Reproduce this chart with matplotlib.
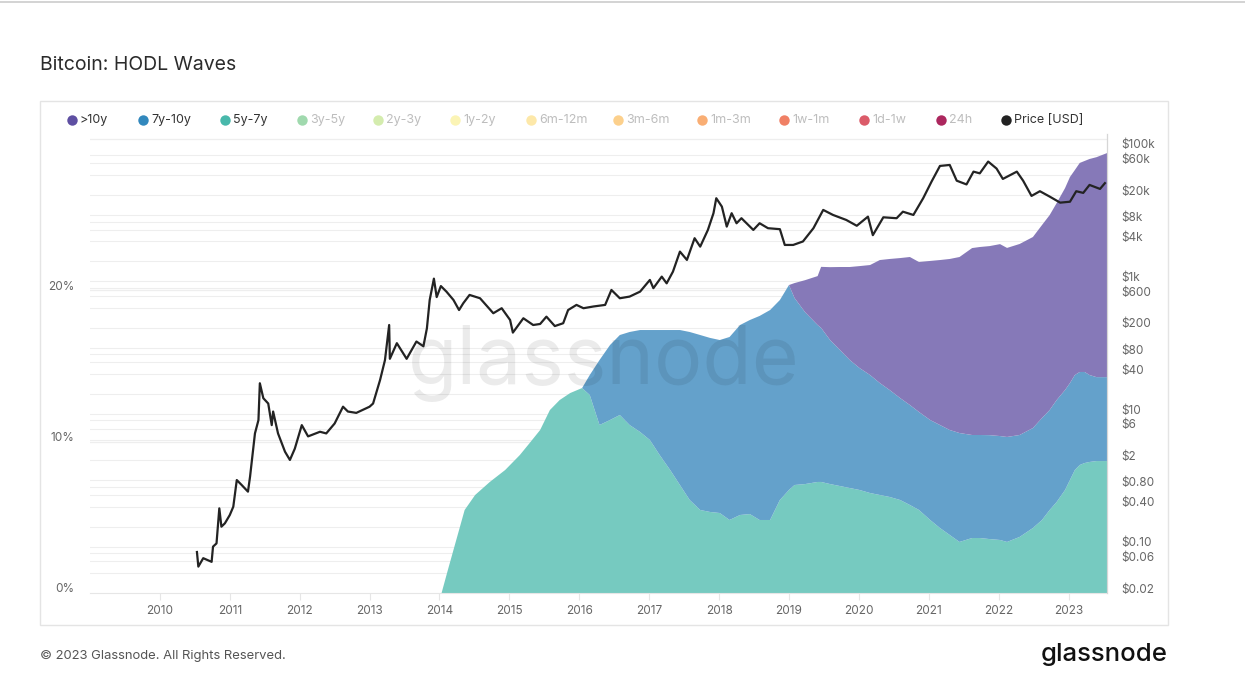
import matplotlib.pyplot as plt
import matplotlib.transforms as mtransforms
from matplotlib.lines import Line2D
from matplotlib.patches import Rectangle

plt.rcParams['font.family'] = ['Inter', 'DejaVu Sans']

# HODL wave bands (% of supply)
wave_years = [2014.03, 2014.12, 2014.22, 2014.36, 2014.51, 2014.72, 2014.94, 2015.15, 2015.29, 2015.44,
              2015.58, 2015.72, 2015.87, 2016.04, 2016.15, 2016.29, 2016.44, 2016.58, 2016.72, 2016.87,
              2017.01, 2017.15, 2017.30, 2017.44, 2017.58, 2017.73, 2017.87, 2018.01, 2018.15, 2018.30,
              2018.44, 2018.58, 2018.73, 2018.87, 2019.00, 2019.08, 2019.23, 2019.41, 2019.46, 2019.59,
              2019.73, 2019.87, 2020.01, 2020.16, 2020.30, 2020.44, 2020.59, 2020.73, 2020.86, 2021.02,
              2021.16, 2021.30, 2021.44, 2021.62, 2021.73, 2021.87, 2022.02, 2022.12, 2022.30, 2022.49,
              2022.62, 2022.73, 2022.83, 2022.95, 2023.02, 2023.09, 2023.16, 2023.23, 2023.30, 2023.40,
              2023.55]
supply_5y_7y = [0.00, 1.52, 3.17, 5.48, 6.47, 7.33, 8.12, 9.11, 9.90, 10.76,
                12.08, 12.74, 13.20, 13.53, 13.07, 11.09, 11.42, 11.75, 11.09, 10.63,
                10.10, 9.11, 8.12, 7.13, 6.14, 5.48, 5.35, 5.28, 4.82, 5.15,
                5.21, 4.82, 4.82, 6.14, 6.80, 7.13, 7.19, 7.33, 7.33, 7.19,
                7.06, 6.93, 6.80, 6.60, 6.47, 6.34, 6.14, 5.81, 5.48, 4.82,
                4.29, 3.83, 3.37, 3.63, 3.63, 3.56, 3.50, 3.37, 3.70, 4.29,
                4.82, 5.48, 6.01, 6.80, 7.46, 8.12, 8.45, 8.58, 8.65, 8.71,
                8.71]
supply_7y_10y = [0, 0, 0, 0, 0, 0, 0, 0, 0, 0,
                 0, 0, 0, 0, 1.32, 4.29, 4.95, 5.28, 6.14, 6.73,
                 7.26, 8.25, 9.24, 10.23, 11.09, 11.55, 11.49, 11.42, 12.08, 12.54,
                 12.81, 13.47, 13.86, 13.20, 13.53, 12.34, 11.35, 10.36, 10.17, 9.50,
                 8.98, 8.45, 8.05, 7.79, 7.39, 7.06, 6.73, 6.60, 6.47, 6.60,
                 6.80, 6.93, 7.19, 6.80, 6.80, 6.86, 6.86, 6.93, 6.73, 6.60,
                 6.73, 6.60, 6.73, 6.60, 6.40, 6.27, 6.14, 6.01, 5.74, 5.54,
                 5.54]
supply_10y_plus = [0, 0, 0, 0, 0, 0, 0, 0, 0, 0,
                   0, 0, 0, 0, 0, 0, 0, 0, 0, 0,
                   0, 0, 0, 0, 0, 0, 0, 0, 0, 0,
                   0, 0, 0, 0, 0, 0.99, 2.11, 3.23, 4.03, 4.82,
                   5.48, 6.14, 6.73, 7.26, 8.12, 8.65, 9.24, 9.77, 9.90, 10.50,
                   10.89, 11.29, 11.62, 12.34, 12.41, 12.48, 12.67, 12.48, 12.61, 12.61,
                   12.74, 12.87, 13.00, 13.33, 13.60, 13.53, 13.80, 13.93, 14.26, 14.52,
                   14.79]

# BTC price (USD)
price_years = [2010.53, 2010.55, 2010.62, 2010.74, 2010.76, 2010.81, 2010.85, 2010.88, 2010.93, 2011.00,
               2011.05, 2011.10, 2011.17, 2011.26, 2011.29, 2011.36, 2011.41, 2011.43, 2011.48, 2011.55,
               2011.60, 2011.62, 2011.69, 2011.79, 2011.86, 2011.93, 2012.03, 2012.12, 2012.29, 2012.38,
               2012.50, 2012.62, 2012.69, 2012.81, 2013.00, 2013.05, 2013.15, 2013.22, 2013.28, 2013.29,
               2013.39, 2013.53, 2013.67, 2013.77, 2013.82, 2013.86, 2013.92, 2013.96, 2014.02, 2014.10,
               2014.20, 2014.28, 2014.34, 2014.43, 2014.58, 2014.77, 2014.89, 2015.01, 2015.05, 2015.20,
               2015.34, 2015.44, 2015.53, 2015.65, 2015.77, 2015.84, 2015.96, 2016.06, 2016.20, 2016.37,
               2016.46, 2016.58, 2016.72, 2016.87, 2017.01, 2017.06, 2017.18, 2017.25, 2017.34, 2017.44,
               2017.54, 2017.65, 2017.73, 2017.84, 2017.92, 2017.96, 2018.04, 2018.11, 2018.18, 2018.25,
               2018.32, 2018.49, 2018.58, 2018.70, 2018.87, 2018.94, 2019.06, 2019.20, 2019.35, 2019.49,
               2019.63, 2019.82, 2019.97, 2020.13, 2020.20, 2020.35, 2020.54, 2020.63, 2020.78, 2020.92,
               2021.04, 2021.16, 2021.30, 2021.40, 2021.54, 2021.64, 2021.73, 2021.85, 2021.97, 2022.06,
               2022.26, 2022.35, 2022.47, 2022.59, 2022.73, 2022.88, 2023.02, 2023.11, 2023.21, 2023.30,
               2023.45, 2023.52]
price_usd = [0.083, 0.050, 0.067, 0.059, 0.10, 0.112, 0.378, 0.20, 0.225, 0.30,
             0.40, 1.01, 0.85, 0.675, 1.14, 5.1, 8.1, 29.1, 17.3, 14.4,
             6.8, 10.9, 5.1, 2.7, 2.03, 3.0, 6.8, 4.6, 5.4, 5.1,
             7.2, 12.9, 10.9, 10.4, 12.9, 14.4, 32.6, 65, 220, 68,
             117, 68, 124, 105, 196, 525, 1100, 580, 850, 700,
             525, 370, 468, 625, 557, 331, 394, 262, 169, 278,
             220, 228, 294, 212, 234, 370, 442, 394, 418, 442,
             743, 557, 590, 701, 1052, 790, 1180, 935, 1403, 2813,
             2108, 4480, 3345, 5970, 10670, 17950, 13420, 6700, 10670, 7530,
             8970, 5970, 7530, 6340, 6130, 3545, 3545, 4000, 6340, 11960,
             10050, 8440, 6900, 9470, 4980, 9260, 8970, 11250, 10050, 17950,
             32000, 55100, 57000, 33000, 29000, 45200, 42600, 64100, 50300, 35100,
             45200, 33000, 19460, 22900, 19000, 15400, 15900, 22900, 21600, 28500,
             24800, 30300]

legend_labels = ['>10y', '7y-10y', '5y-7y', '3y-5y', '2y-3y', '1y-2y', '6m-12m',
                 '3m-6m', '1m-3m', '1w-1m', '1d-1w', '24h', 'Price [USD]']
legend_colors = ['#5e4fa2', '#3288bd', '#48b8ab', '#8fd3a0', '#cde9a0', '#fbf3a8', '#fde59a',
                 '#fcc878', '#f9a05c', '#ee6a4a', '#d53e4f', '#9e0142', '#222222']
legend_active = [True, True, True, False, False, False, False,
                 False, False, False, False, False, True]
legend_x = [72, 143, 225, 302, 378, 455, 531, 618, 702, 784, 864, 941, 1006]

pct_ticks = [0, 10, 20]
pct_tick_labels = ['0%', '10%', '20%']
price_ticks = [0.02, 0.06, 0.10, 0.40, 0.80, 2, 6, 10, 40, 80, 200, 600,
               1000, 4000, 8000, 20000, 60000, 100000]
price_tick_labels = ['$0.02', '$0.06', '$0.10', '$0.40', '$0.80', '$2', '$6', '$10', '$40', '$80',
                     '$200', '$600', '$1k', '$4k', '$8k', '$20k', '$60k', '$100k']
year_ticks = list(range(2010, 2024))

W, H = 1245, 699
fig = plt.figure(figsize=(W / 100, H / 100), dpi=100)

# page chrome
fig.add_artist(Line2D([0, 1], [1 - 2 / H, 1 - 2 / H], color='#cccccc', lw=1.2))
fig.add_artist(Rectangle((40 / W, 1 - 625 / H), 1128 / W, 524 / H, fill=False,
                         edgecolor='#e4e4e4', lw=1))
fig.text(40 / W, 1 - 65 / H, 'Bitcoin: HODL Waves', fontsize=14, color='#2b2b2b',
         va='center', ha='left')
fig.text(40 / W, 1 - 656 / H, '\u00a9 2023 Glassnode. All Rights Reserved.', fontsize=9.4,
         color='#555555', va='center', ha='left')
fig.text(1168 / W, 1 - 654 / H, 'glassnode', fontsize=18.5, color='#111111', va='center',
         ha='right', fontweight='medium')

# legend row
for lx, lab, col, act in zip(legend_x, legend_labels, legend_colors, legend_active):
    fig.add_artist(Line2D([lx / W], [1 - 120 / H], marker='o', markersize=7.5, color=col,
                          markeredgewidth=0, alpha=1 if act else 0.85, linestyle='none'))
    fig.text((lx + 8) / W, 1 - 120 / H, lab, fontsize=9, va='center', ha='left',
             color='#333333' if act else '#bdbdbd')

rect = [90 / W, 1 - 593 / H, 1017 / W, 459 / H]
price_lim = (0.02, 167000)

# background grid (log price lines + percent lines) behind the bands
axg = fig.add_axes(rect, zorder=0)
axg.set_yscale('log')
axg.set_ylim(*price_lim)
axg.set_xlim(0, 1)
for dec in [0.01, 0.1, 1, 10, 100, 1000, 10000]:
    for m in [1, 2, 4, 6, 8]:
        v = dec * m
        if 0.02 < v <= 100000:
            axg.axhline(v, color='#eeeeee', lw=0.8)
axg.axis('off')

ax = fig.add_axes(rect, zorder=1)
ax.set_facecolor('none')
ax.stackplot(wave_years, supply_5y_7y, supply_7y_10y, supply_10y_plus,
             colors=['#76cac0', '#64a1cb', '#8679b8'], linewidth=0, zorder=2)
for y in [10, 20, 30]:
    ax.axhline(y, color='#eeeeee', lw=0.9, zorder=0)
ax.set_xlim(2009.0, 2023.55)
ax.set_ylim(0, 30.3)
ax.set_yticks(pct_ticks)
ax.set_yticklabels(pct_tick_labels)
ax.set_xticks(year_ticks)
ax.set_xticklabels([str(y) for y in year_ticks])
ax.tick_params(axis='y', length=0, pad=11, labelsize=8.5, labelcolor='#666666')
ax.tick_params(axis='x', length=5, color='#e6e6e6', pad=4, labelsize=8.5, labelcolor='#666666')
for s in ['left', 'top']:
    ax.spines[s].set_visible(False)
ax.spines['bottom'].set_color('#e6e6e6')
ax.spines['right'].set_color('#d6d6d6')

ax.text(0.505, 0.50, 'glassnode', transform=ax.transAxes, fontsize=58, color='black',
        alpha=0.08, ha='center', va='center', zorder=3)

ax2 = ax.twinx()
ax2.set_zorder(2)
ax2.set_yscale('log')
ax2.set_ylim(*price_lim)
ax2.plot(price_years, price_usd, color='#232323', lw=1.6, zorder=5)
ax2.set_yticks(price_ticks)
ax2.set_yticklabels(price_tick_labels)
ax2.minorticks_off()
ax2.tick_params(axis='y', length=0, pad=10.5, labelsize=8.5, labelcolor='#666666')
for s in ['left', 'top', 'bottom']:
    ax2.spines[s].set_visible(False)
ax2.spines['right'].set_color('#d6d6d6')

shift = mtransforms.ScaledTranslation(0, 0.05, fig.dpi_scale_trans)
for lab in ax.get_yticklabels() + ax2.get_yticklabels():
    lab.set_transform(lab.get_transform() + shift)

fig.savefig('out.png', dpi=100, facecolor='white')
